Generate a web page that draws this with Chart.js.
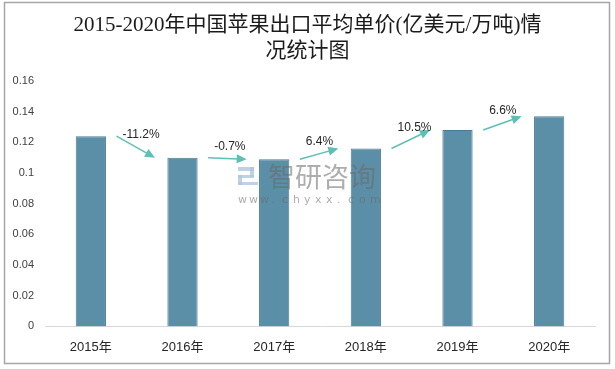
<!DOCTYPE html>
<html>
 <head>
  <meta charset="utf-8" />
  <title></title>
  <style>
   body { margin: 0; background: #fff; }
  </style>
 </head>
 <body>
    <canvas id="priceChart" width="615" height="369"></canvas>

    <script src="https://cdn.jsdelivr.net/npm/chart.js@4.4.0/dist/chart.umd.min.js"></script>
  <script>

// data
let years = ['2015年', '2016年', '2017年', '2018年', '2019年', '2020年'];
let price = [0.124, 0.110, 0.109, 0.116, 0.128, 0.137];
let growth = ['-11.2%', '-0.7%', '6.4%', '10.5%', '6.6%'];
let yTicks = [0, 0.02, 0.04, 0.06, 0.08, 0.1, 0.12, 0.14, 0.16];
let titleLines = ['2015-2020年中国苹果出口平均单价(亿美元/万吨)情', '况统计图'];

// frame, title, watermark, growth arrows
let extras = {
    id: 'extras',
    beforeDraw(chart) {
        let ctx = chart.ctx;
        ctx.save();
        ctx.fillStyle = '#fff';
        ctx.fillRect(0, 0, chart.width, chart.height);
        ctx.strokeStyle = '#a6a6a6';
        ctx.lineWidth = 1.5;
        ctx.strokeRect(4.5, 2.5, 605, 361);

        ctx.fillStyle = '#1a1a1a';
        ctx.font = '21px "Liberation Serif", "Noto Sans CJK SC"';
        ctx.textAlign = 'center';
        ctx.textBaseline = 'middle';
        ctx.fillText(titleLines[0], 307.5, 25);
        ctx.fillText(titleLines[1], 307.5, 51);
        ctx.restore();
    },
    afterDatasetsDraw(chart) {
        let ctx = chart.ctx;
        let xs = chart.scales.x, ys = chart.scales.y;
        let catW = xs.getPixelForValue(1) - xs.getPixelForValue(0);

        // watermark
        ctx.save();
        ctx.fillStyle = 'rgba(175,198,222,0.8)';
        ctx.fillRect(238, 167, 16, 4);
        ctx.fillRect(250, 167, 4, 10);
        ctx.fillRect(238, 175, 16, 3);
        ctx.fillRect(238, 175, 4, 10);
        ctx.fillRect(238, 182, 20, 3);
        ctx.fillStyle = 'rgba(105,105,105,0.55)';
        ctx.font = '27px "Noto Sans CJK SC"';
        ctx.textBaseline = 'middle';
        ctx.fillText('智研咨询', 268, 177);
        ctx.font = '11px "DejaVu Sans"';
        let url = 'www.chyxx.com';
        for (let k = 0; k < url.length; k++) {
            ctx.fillText(url[k], 238 + k * 11, 200);
        }
        ctx.restore();

        // arrows
        ctx.save();
        for (let i = 0; i < growth.length; i++) {
            let cx = xs.getPixelForValue(i);
            let x1 = cx + 0.28 * catW, y1 = ys.getPixelForValue(price[i]);
            let x2 = cx + 0.70 * catW, y2 = ys.getPixelForValue(price[i + 1]);
            let a = Math.atan2(y2 - y1, x2 - x1);
            ctx.strokeStyle = '#5fbfb4';
            ctx.fillStyle = '#5fbfb4';
            ctx.lineWidth = 1.5;
            ctx.beginPath();
            ctx.moveTo(x1, y1);
            ctx.lineTo(x2 - 8 * Math.cos(a), y2 - 8 * Math.sin(a));
            ctx.stroke();
            ctx.beginPath();
            ctx.moveTo(x2, y2);
            ctx.lineTo(x2 - 10 * Math.cos(a) + 4.5 * Math.sin(a), y2 - 10 * Math.sin(a) - 4.5 * Math.cos(a));
            ctx.lineTo(x2 - 10 * Math.cos(a) - 4.5 * Math.sin(a), y2 - 10 * Math.sin(a) + 4.5 * Math.cos(a));
            ctx.closePath();
            ctx.fill();

            ctx.fillStyle = '#262626';
            ctx.font = '12px "Liberation Sans"';
            ctx.textBaseline = 'middle';
            ctx.textAlign = 'left';
            ctx.fillText(growth[i], x1 + 6, (y1 + y2) / 2 - 12);
        }
        ctx.restore();
    }
};

let chart = new Chart(document.getElementById('priceChart'), {
    type: 'bar',
    data: {
        labels: years,
        datasets: [{
            data: price,
            backgroundColor: '#5b8fa7',
            borderColor: '#4c7c93',
            borderWidth: 1,
            barPercentage: 0.33,
            categoryPercentage: 1
        }]
    },
    options: {
        responsive: false,
        animation: false,
        layout: { padding: { left: 8, right: 20, top: 81, bottom: 9 } },
        plugins: {
            legend: { display: false },
            tooltip: { enabled: false },
            title: { display: false }
        },
        scales: {
            x: {
                grid: { display: false },
                border: { color: '#d9d9d9', width: 1 },
                ticks: { color: '#262626', font: { family: '"Liberation Sans", "Noto Sans CJK SC"', size: 13 }, padding: 5 }
            },
            y: {
                min: 0,
                max: 0.16,
                afterBuildTicks(axis) { axis.ticks = yTicks.map(v => ({ value: v })); },
                afterFit(axis) { axis.width = 37; },
                grid: { display: false, drawTicks: false },
                border: { display: false },
                ticks: {
                    color: '#404040',
                    font: { family: '"Liberation Sans"', size: 11 },
                    padding: 11,
                    callback: v => String(+v.toFixed(2))
                }
            }
        }
    },
    plugins: [extras]
});

  </script>

</body>
</html>
